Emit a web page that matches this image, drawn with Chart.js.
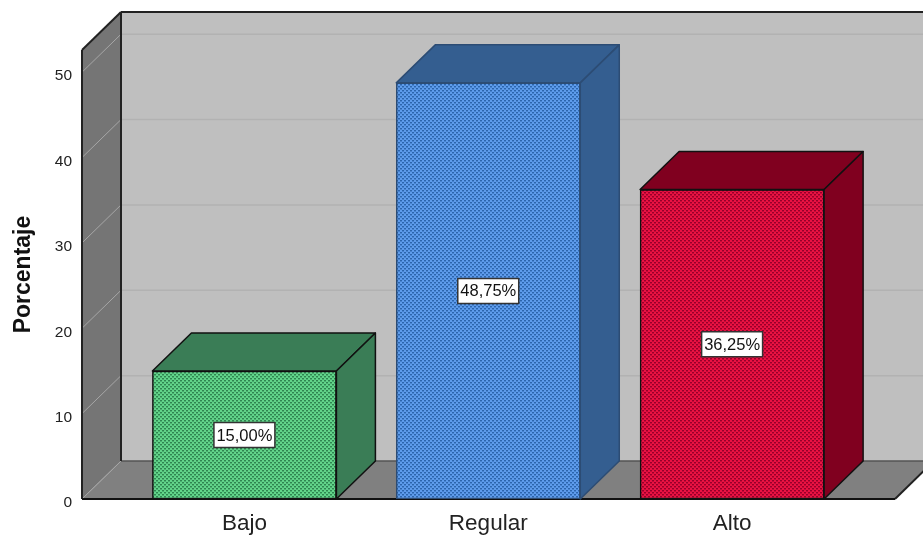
<!DOCTYPE html>
<html>
<head>
<meta charset="utf-8">
<title>Porcentaje</title>
<script src="https://cdn.jsdelivr.net/npm/chart.js@4"></script>
<style>
  html, body { margin: 0; padding: 0; background: #fff; overflow: hidden; }
  canvas { display: block; }
</style>
</head>
<body>
<canvas id="chart" width="923" height="535"></canvas>
<script>
const categories = ["Bajo", "Regular", "Alto"];
const values = [15.00, 48.75, 36.25];
const yTicks = [0, 10, 20, 30, 40, 50];

const FONT = '"Liberation Sans", Arial, sans-serif';
const DEPTH_X = 39;
const DEPTH_Y = 38;

const barStyles = [
  { base: "#62d48a", dot: "#2f8550", side: "#3a7d56", edge: "#111" },
  { base: "#5e9cec", dot: "#2c65ad", side: "#345e90", edge: "#2c4c74" },
  { base: "#ea1242", dot: "#96002a", side: "#80001f", edge: "#111" }
];

// staggered dot texture used on the bar fronts
function dotPattern(base, dot) {
  const c = document.createElement("canvas");
  c.width = 4;
  c.height = 4;
  const g = c.getContext("2d");
  g.fillStyle = base;
  g.fillRect(0, 0, 4, 4);
  g.fillStyle = dot;
  g.fillRect(0, 0, 2, 1);
  g.fillRect(2, 2, 2, 1);
  g.globalAlpha = 0.45;
  g.fillRect(0, 1, 2, 1);
  g.fillRect(2, 3, 2, 1);
  return g.createPattern(c, "repeat");
}

function poly(ctx, pts, fill, stroke, lw) {
  ctx.beginPath();
  pts.forEach((p, i) => i ? ctx.lineTo(p[0], p[1]) : ctx.moveTo(p[0], p[1]));
  ctx.closePath();
  if (fill) { ctx.fillStyle = fill; ctx.fill(); }
  if (stroke) { ctx.strokeStyle = stroke; ctx.lineWidth = lw || 1; ctx.stroke(); }
}

function line(ctx, x1, y1, x2, y2, color, lw) {
  ctx.beginPath();
  ctx.moveTo(x1, y1);
  ctx.lineTo(x2, y2);
  ctx.strokeStyle = color;
  ctx.lineWidth = lw;
  ctx.stroke();
}

// back wall, left wall and floor of the box
const boxPlugin = {
  id: "box",
  beforeDatasetsDraw(chart) {
    const { ctx, chartArea: a, scales: { y } } = chart;
    const dx = DEPTH_X, dy = DEPTH_Y;
    ctx.save();
    poly(ctx, [[a.left + dx, a.top - dy], [a.right + dx, a.top - dy], [a.right + dx, a.bottom - dy], [a.left + dx, a.bottom - dy]], "#bfbfbf");
    poly(ctx, [[a.left, a.top], [a.left + dx, a.top - dy], [a.left + dx, a.bottom - dy], [a.left, a.bottom]], "#757575");
    poly(ctx, [[a.left, a.bottom], [a.left + dx, a.bottom - dy], [a.right + dx, a.bottom - dy], [a.right, a.bottom]], "#808080");

    yTicks.forEach(v => {
      const py = y.getPixelForValue(v);
      if (v > 0) line(ctx, a.left + dx, py - dy, a.right + dx, py - dy, "#b2b2b2", 1.5);
      line(ctx, a.left, py, a.left + dx, py - dy, "#a6a6a6", 1);
    });

    line(ctx, a.left + dx, a.bottom - dy, a.right + dx, a.bottom - dy, "#555", 1.5);
    line(ctx, a.left + dx, a.top - dy, a.left + dx, a.bottom - dy, "#222", 2);
    line(ctx, a.left + dx, a.top - dy, a.right + dx, a.top - dy, "#222", 2);
    line(ctx, a.left, a.top, a.left + dx, a.top - dy, "#222", 2);
    line(ctx, a.left, a.top, a.left, a.bottom, "#222", 2);
    line(ctx, a.right, a.bottom, a.right + dx, a.bottom - dy, "#222", 2);
    line(ctx, a.left, a.bottom, a.right, a.bottom, "#111", 2);
    ctx.restore();
  },
  afterDatasetsDraw(chart) {
    const { ctx } = chart;
    const dx = DEPTH_X, dy = DEPTH_Y;
    ctx.save();
    ctx.lineJoin = "round";
    chart.getDatasetMeta(0).data.forEach((bar, i) => {
      const st = barStyles[i];
      const l = bar.x - bar.width / 2, r = bar.x + bar.width / 2;
      const t = bar.y, b = bar.base;
      poly(ctx, [[l, t], [l + dx, t - dy], [r + dx, t - dy], [r, t]], st.side, st.edge, 1.5);
      poly(ctx, [[r, t], [r + dx, t - dy], [r + dx, b - dy], [r, b]], st.side, st.edge, 1.5);

      // value box in the middle of the front face
      const text = values[i].toFixed(2).replace(".", ",") + "%";
      ctx.font = "16.5px " + FONT;
      const w = ctx.measureText(text).width + 5;
      const h = 25;
      const cy = (t + b) / 2;
      ctx.fillStyle = "#fff";
      ctx.fillRect(bar.x - w / 2, cy - h / 2, w, h);
      ctx.strokeStyle = "#333";
      ctx.lineWidth = 1.5;
      ctx.strokeRect(bar.x - w / 2, cy - h / 2, w, h);
      ctx.fillStyle = "#111";
      ctx.textAlign = "center";
      ctx.textBaseline = "middle";
      ctx.fillText(text, bar.x, cy + 1);
    });
    ctx.restore();
  }
};

new Chart(document.getElementById("chart"), {
  type: "bar",
  data: {
    datasets: [{
      data: categories.map((c, i) => ({ x: i, y: values[i] })),
      barThickness: 184,
      backgroundColor: barStyles.map(s => dotPattern(s.base, s.dot)),
      borderColor: barStyles.map(s => s.edge),
      borderWidth: 1.5,
      borderSkipped: false
    }]
  },
  plugins: [boxPlugin],
  options: {
    responsive: false,
    animation: false,
    layout: { padding: { top: 50, right: 28, left: 0, bottom: 0 } },
    plugins: { legend: { display: false }, tooltip: { enabled: false } },
    scales: {
      x: {
        type: "linear",
        offset: false,
        bounds: "data",
        min: -0.666,
        max: 2.668,
        grid: { display: false, drawTicks: false },
        border: { display: false },
        afterBuildTicks: s => { s.ticks = categories.map((c, i) => ({ value: i })); },
        afterFit: s => { s.height = 36; },
        ticks: {
          padding: 11,
          autoSkip: false,
          maxRotation: 0,
          color: "#222",
          font: { family: FONT, size: 22.5 },
          callback: v => categories[v]
        }
      },
      y: {
        type: "linear",
        bounds: "data",
        min: 0,
        max: 52.6,
        grid: { display: false, drawTicks: false },
        border: { display: false },
        afterBuildTicks: s => { s.ticks = yTicks.map(v => ({ value: v })); },
        afterFit: s => { s.width = 82; },
        title: {
          display: true,
          text: "Porcentaje",
          color: "#111",
          padding: { top: 10, bottom: 0 },
          font: { family: FONT, size: 23, weight: "bold" }
        },
        ticks: {
          padding: 10,
          labelOffset: 4,
          color: "#222",
          font: { family: FONT, size: 15.5 }
        }
      }
    }
  }
});
</script>
</body>
</html>
